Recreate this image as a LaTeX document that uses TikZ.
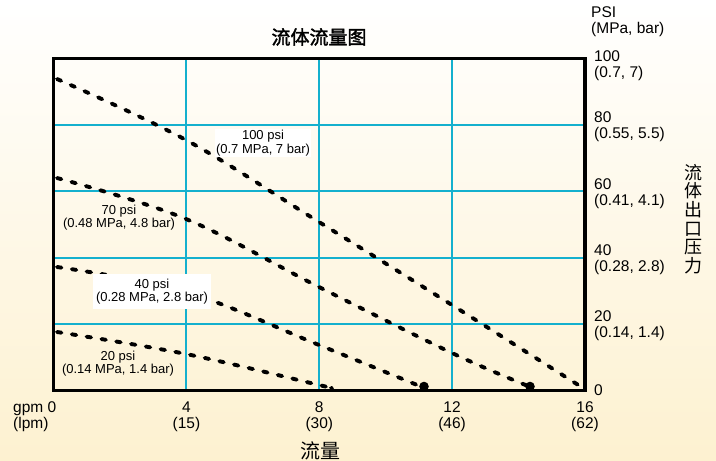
\documentclass[tikz,border=0pt]{standalone}
\usepackage{fontspec}
\setmainfont{Liberation Sans}
\newfontfamily\cjk{Noto Sans CJK SC}
\newfontfamily\cjkb[FakeBold=2]{Noto Sans CJK SC}
\definecolor{gridc}{RGB}{20,176,206}
\definecolor{cream}{RGB}{253,241,208}
\begin{document}
\begin{tikzpicture}[x=1pt,y=-1pt,
  gridline/.style={gridc, line width=2pt},
  frameline/.style={line width=3.4pt, line join=miter},
  curve/.style={line width=3.9pt, line cap=round, dash pattern=on 4.5pt off 10.5pt},
  curvelbl/.style={font=\fontsize{13}{13.5}\selectfont, align=center, inner sep=1pt},
  axlbl/.style={font=\fontsize{15.5}{16}\selectfont, align=left, inner sep=0pt, anchor=west},
  xlbl/.style={font=\fontsize{15.5}{16}\selectfont, align=center, inner sep=0pt},
  enddot/.style={fill=black}]
\useasboundingbox (0,0) rectangle (716,461);
\shade[top color=white, bottom color=cream] (0,0) rectangle (716,461);
% grid
\foreach \x in {186.4,319.3,452.1} \draw[gridline] (\x,58.5) -- (\x,390.5);
\foreach \y in {124.9,191.3,257.7,324.1} \draw[gridline] (53.5,\y) -- (585,\y);
% curves
\draw[curve] plot[smooth, tension=0.6] coordinates {(57,79) (186,140) (319,222) (452,305) (583,388)};
\draw[curve] plot[smooth, tension=0.6] coordinates {(57,178) (186,219) (319,287) (452,353) (528,386)};
\draw[curve] plot[smooth, tension=0.6] coordinates {(57,267) (186,292) (319,345) (422,387)};
\draw[curve] plot[smooth, tension=0.6] coordinates {(57,332) (186,354) (319,385) (331,388)};
\fill[enddot] (424,386.5) circle (4.8);
\fill[enddot] (530,386.5) circle (4.8);
% curve labels
\node[curvelbl, fill=white] (l100) at (263,143) {100 psi\\(0.7 MPa, 7 bar)};
\node[curvelbl] (l70) at (119,217.5) {70 psi\\(0.48 MPa, 4.8 bar)};
\node[curvelbl, fill=white, inner xsep=3pt, inner ysep=5pt] (l40) at (152,291.5) {40 psi\\(0.28 MPa, 2.8 bar)};
\node[curvelbl] (l20) at (118,363.5) {20 psi\\(0.14 MPa, 1.4 bar)};
% frame
\draw[frameline] (53.5,58.5) rectangle (585,390.5);
% right axis
\node[axlbl] (psi) at (591,21.5) {PSI\\(MPa, bar)};
\node[axlbl] (y100) at (594,65.5) {100\\(0.7, 7)};
\node[axlbl] (y80) at (594,127) {80\\(0.55, 5.5)};
\node[axlbl] (y60) at (594,193.3) {60\\(0.41, 4.1)};
\node[axlbl] (y40) at (594,259.7) {40\\(0.28, 2.8)};
\node[axlbl] (y20) at (594,326.1) {20\\(0.14, 1.4)};
\node[axlbl] (y0) at (594,390) {0};
% bottom axis
\node[axlbl] (x0) at (13,417) {gpm 0\\(lpm)};
\node[xlbl] (x4) at (186.4,417) {4\\(15)};
\node[xlbl] (x8) at (319.3,417) {8\\(30)};
\node[xlbl] (x12) at (452.1,417) {12\\(46)};
\node[xlbl] (x16) at (585,417) {16\\(62)};
% titles
\node[font=\cjkb\fontsize{19}{19}\selectfont, inner sep=0pt] (title) at (319,37) {流体流量图};
\node[font=\cjk\fontsize{20}{20}\selectfont, inner sep=0pt] (xtitle) at (320,451) {流量};
\node[font=\cjk\fontsize{18}{18.6}\selectfont, align=center, inner sep=0pt] (ytitle) at (693,219) {流\\体\\出\\口\\压\\力};
\end{tikzpicture}
\end{document}
